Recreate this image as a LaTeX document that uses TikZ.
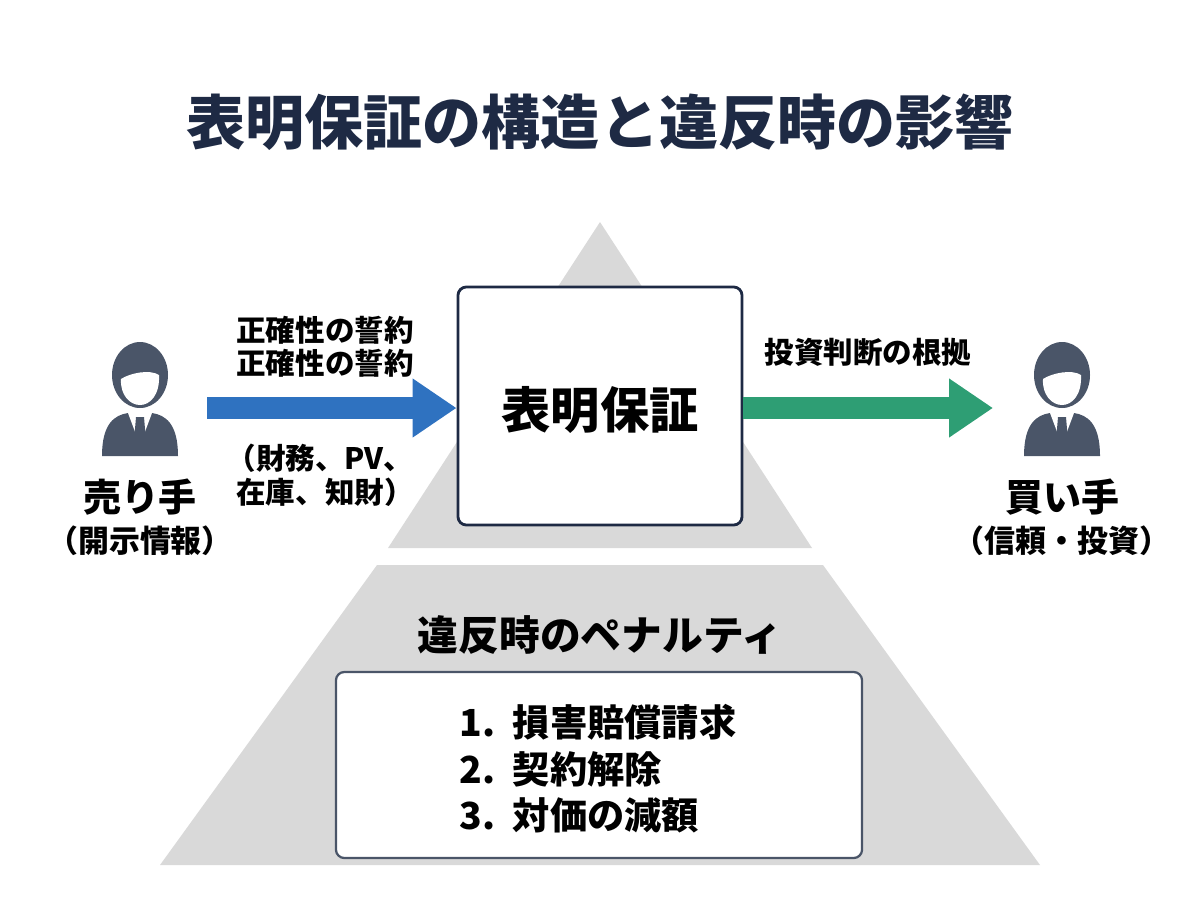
\documentclass[tikz,border=0pt]{standalone}
\usepackage{fontspec}
\setmainfont{Noto Sans CJK JP}
\usetikzlibrary{positioning, arrows.meta}
\definecolor{navy}{HTML}{1E2A44}
\definecolor{slate}{HTML}{4A5568}
\definecolor{pyramid}{HTML}{D9D9D9}
\definecolor{bluearrow}{HTML}{2F72C0}
\definecolor{greenarrow}{HTML}{2E9E74}

\begin{document}
\begin{tikzpicture}[x=0.025cm,y=-0.025cm]
    \tikzset{
        label/.style = {font=\fontsize{21}{24}\selectfont\bfseries, text=black},
        item/.style = {font=\fontsize{26.5}{30}\selectfont\bfseries, anchor=west},
        box/.style = {rectangle, draw=navy, fill=white, line width=2pt, rounded corners=6pt},
        arrow/.style = {line width=0.55cm, -{Triangle[length=1.1cm,width=1.4cm]}},
        person/.pic = {
            \fill[slate] (-38,73) .. controls (-38,40) and (-25,32) .. (-12,30) -- (12,30) .. controls (25,32) and (38,40) .. (38,73) -- cycle;
            \fill[white] (-12,30) -- (0,62) -- (12,30) -- cycle;
            \fill[slate] (-4,34) -- (4,34) -- (6,58) -- (0,66) -- (-6,58) -- cycle;
            \fill[slate] (0,-8) ellipse (28 and 33);
            \fill[white] (-19,-4) .. controls (-10,-10) and (10,-14) .. (19,-8) .. controls (20,12) and (10,22) .. (0,22) .. controls (-10,22) and (-20,12) .. (-19,-4) -- cycle;
        },
    }
    \useasboundingbox (0,0) rectangle (1200,896);

    % pyramid
    \fill[pyramid] (600,222) -- (812,548) -- (388,548) -- cycle;
    \fill[pyramid] (377,565) -- (823,565) -- (1040,865) -- (160,865) -- cycle;

    \node[font=\fontsize{42}{46}\selectfont\bfseries, text=navy](title) at (600,122){表明保証の構造と違反時の影響};

    \node[box, minimum width=7.1cm, minimum height=5.95cm](core) at (600,406){};
    \node[font=\fontsize{35}{38}\selectfont\bfseries](corelabel) at (600,410){表明保証};

    % seller and buyer
    \pic at (140,383) {person};
    \pic at (1062,383) {person};
    \node[font=\fontsize{27}{30}\selectfont\bfseries](seller) at (140,497){売り手};
    \node[font=\fontsize{22}{26}\selectfont\bfseries](sellerinfo) at (140,541){（開示情報）};
    \node[font=\fontsize{27}{30}\selectfont\bfseries](buyer) at (1062,497){買い手};
    \node[font=\fontsize{22}{26}\selectfont\bfseries](buyerinfo) at (1062,541){（信頼・投資）};

    % arrows
    \coordinate (bluestart) at (207,408);
    \coordinate (greenend) at (993,408);
    \draw[arrow, bluearrow] (bluestart) -- (core.west |- bluestart);
    \draw[arrow, greenarrow] (core.east |- greenend) -- (greenend);

    \node[label](oath1) at (325,330){正確性の誓約};
    \node[label](oath2) at (325,363){正確性の誓約};
    \node[label](scope1) at (320,458){（財務、PV、};
    \node[label](scope2) at (325,492){在庫、知財）};
    \node[label](basis) at (868,352){投資判断の根拠};

    % penalties
    \node[font=\fontsize{29}{32}\selectfont\bfseries](penalty) at (600,635){違反時のペナルティ};
    \node[box, line width=1.6pt, draw=slate, minimum width=13.15cm, minimum height=4.65cm](list) at (599,765){};
    \node[item](item1) at (455,722){1.\ \ 損害賠償請求};
    \node[item](item2) at (455,769){2.\ \ 契約解除};
    \node[item](item3) at (455,815){3.\ \ 対価の減額};
\end{tikzpicture}
\end{document}
